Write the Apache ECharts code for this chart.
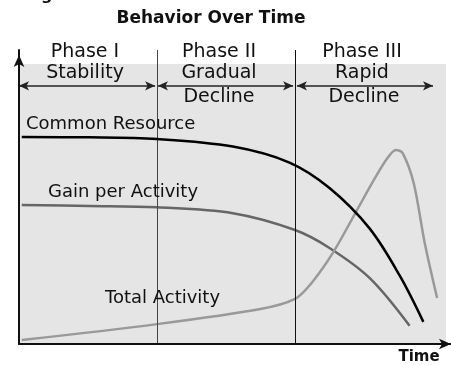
<!DOCTYPE html>
<html>
<head>
<meta charset="utf-8">
<script src="https://cdn.jsdelivr.net/npm/echarts@6/dist/echarts.min.js"></script>
<style>
html,body{margin:0;padding:0;background:#fff;}
#chart{width:451px;height:365px;}
</style>
</head>
<body>
<div id="chart"></div>
<script>
// ---- data (time in phase units, value in % of plot height) ----
const resourceTime  = [0.02, 0.51, 1.0, 1.55, 1.96, 2.25, 2.54, 2.76, 2.93];
const resourceValue = [73.9, 73.8, 73.2, 70.5, 64.8, 55.7, 41.3, 24.3, 7.9];

const gainTime  = [0.02, 0.51, 1.0, 1.55, 2.0, 2.25, 2.54, 2.83];
const gainValue = [49.6, 49.3, 48.8, 46.7, 40.7, 34.3, 23.6, 6.5];

const activityTime  = [0.02, 1.0, 1.75, 2.0, 2.12, 2.28, 2.45, 2.58, 2.67, 2.73, 2.78, 2.86, 2.94, 3.03];
const activityValue = [1.4, 7.1, 12.5, 16.1, 21.8, 33.0, 47.9, 59.3, 66.4, 69.3, 68.2, 57.5, 36.1, 16.4];

const phaseBounds = [1, 2];
const phaseNames  = ['Phase I', 'Phase II', 'Phase III'];
const phaseDescs  = [['Stability'], ['Gradual', 'Decline'], ['Rapid', 'Decline']];
const phaseArrowSpans = [[0.0, 0.986], [1.007, 1.986], [2.014, 3.0]];
const phaseArrowLevel = 92.2;
const seriesNames = ['Common Resource', 'Gain per Activity', 'Total Activity'];

const zip = (a, b) => a.map((t, i) => [t, b[i]]);

const chart = echarts.init(document.getElementById('chart'));
const hand = '"DejaVu Sans"';
const txt = (text, x, y, size, align) => ({
  type: 'text', x: x, y: y, z: 20,
  style: { text: text, font: size + 'px ' + hand, fill: '#111', textAlign: align || 'center', textVerticalAlign: 'middle' }
});

const option = {
  animation: false,
  grid: { left: 19, top: 50, width: 432, height: 294, show: false },
  xAxis: {
    type: 'value', min: 0, max: 432 / 138, z: 10,
    axisLine: { show: true, lineStyle: { color: '#111', width: 2 }, symbol: ['none', 'arrow'], symbolSize: [8, 12] },
    axisTick: { show: false }, axisLabel: { show: false }, splitLine: { show: false }
  },
  yAxis: {
    type: 'value', min: 0, max: 105, z: 10,
    axisLine: { show: true, lineStyle: { color: '#111', width: 2 }, symbol: ['none', 'arrow'], symbolSize: [8, 12], symbolOffset: [0, -5] },
    axisTick: { show: false }, axisLabel: { show: false }, splitLine: { show: false }
  },
  series: [
    {
      type: 'line', data: [], z: 1, silent: true,
      markArea: {
        silent: true,
        itemStyle: { color: '#e5e5e5' },
        data: [[{ coord: [0, 0] }, { coord: [3.094, 100] }]]
      },
      markLine: {
        silent: true, symbol: 'none', animation: false,
        label: { show: false },
        data: phaseBounds.map((b, i) => ({ xAxis: b, lineStyle: { color: i === 0 ? '#444' : '#111', width: 1, type: 'solid' } }))
      }
    },
    {
      type: 'line', data: [], z: 3, silent: true,
      markLine: {
        silent: true, symbol: ['arrow', 'arrow'], symbolSize: [7, 10], animation: false,
        label: { show: false },
        lineStyle: { color: '#222', width: 1.5, type: 'solid' },
        data: phaseArrowSpans.map(s => [{ coord: [s[0], phaseArrowLevel] }, { coord: [s[1], phaseArrowLevel] }])
      }
    },
    { name: seriesNames[0], type: 'line', data: zip(resourceTime, resourceValue), smooth: 0.35, showSymbol: false, z: 5,
      lineStyle: { color: '#000', width: 2.5 } },
    { name: seriesNames[1], type: 'line', data: zip(gainTime, gainValue), smooth: 0.35, showSymbol: false, z: 4,
      lineStyle: { color: '#666', width: 2.5 } },
    { name: seriesNames[2], type: 'line', data: zip(activityTime, activityValue), smooth: 0.3, showSymbol: false, z: 4,
      lineStyle: { color: '#999', width: 2.5 } }
  ],
  graphic: [
    { type: 'text', left: 41, top: -12, z: 20, style: { text: 'g', font: 'bold 16px "DejaVu Sans"', fill: '#111' } },
    { type: 'text', x: 211, y: 19, z: 20, style: { text: 'Behavior Over Time', font: 'bold 17px "DejaVu Sans"', fill: '#111', textAlign: 'center', textVerticalAlign: 'middle' } },
    txt(phaseNames[0], 85, 52, 19),
    txt(phaseNames[1], 219, 52, 19),
    txt(phaseNames[2], 362, 52, 19),
    txt(phaseDescs[0][0], 85, 73, 19),
    txt(phaseDescs[1][0], 219, 73, 19),
    txt(phaseDescs[1][1], 219, 97, 19),
    txt(phaseDescs[2][0], 362, 73, 19),
    txt(phaseDescs[2][1], 364, 97, 19),
    txt(seriesNames[0], 26, 124, 18, 'left'),
    txt(seriesNames[1], 48, 192, 18, 'left'),
    txt(seriesNames[2], 105, 298, 18, 'left'),
    { type: 'text', x: 419, y: 357, z: 20, style: { text: 'Time', font: 'bold 15px "DejaVu Sans"', fill: '#111', textAlign: 'center', textVerticalAlign: 'middle' } }
  ]
};
chart.setOption(option);
</script>
</body>
</html>
